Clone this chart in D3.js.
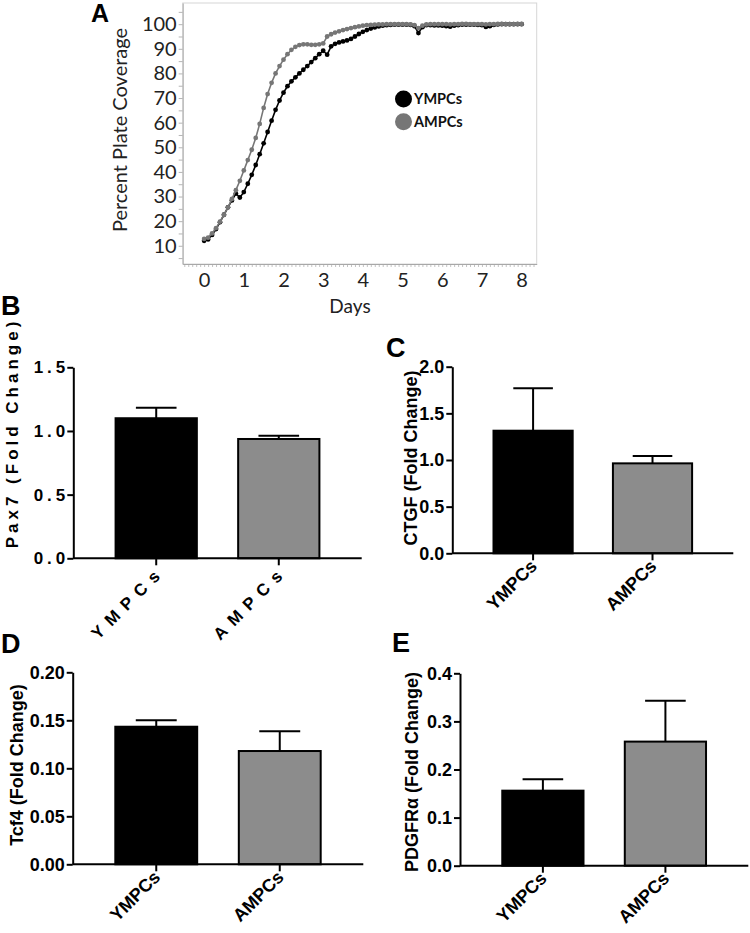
<!DOCTYPE html>
<html><head><meta charset="utf-8">
<script src="https://cdn.jsdelivr.net/npm/d3@7"></script>
<style>body{margin:0;background:#fff} svg{display:block}</style>
</head><body>
<svg id="c" width="750" height="933"></svg>
<script>
// ---------- Panel A data ----------
const days = [0.0,0.1,0.2,0.3,0.4,0.5,0.6,0.7,0.8,0.9,1.0,1.1,1.2,1.3,1.4,1.5,1.6,1.7,1.8,1.9,
2.0,2.1,2.2,2.3,2.4,2.5,2.6,2.7,2.8,2.9,3.0,3.1,3.2,3.3,3.4,3.5,3.6,3.7,3.8,3.9,
4.0,4.1,4.2,4.3,4.4,4.5,4.6,4.7,4.8,4.9,5.0,5.1,5.2,5.3,5.4,5.5,5.6,5.7,5.8,5.9,
6.0,6.1,6.2,6.3,6.4,6.5,6.6,6.7,6.8,6.9,7.0,7.1,7.2,7.3,7.4,7.5,7.6,7.7,7.8,7.9,8.0];
const ympcsCoverage = [12.0,12.6,14.4,16.8,19.6,22.6,25.6,28.4,31.2,29.6,31.8,35.2,38.8,42.8,47.2,51.6,56.2,60.8,65.2,69.0,
72.2,74.8,76.8,78.4,80.0,81.5,83.0,84.6,86.2,87.8,89.2,87.6,91.0,92.0,92.6,93.0,93.4,94.0,95.0,96.0,
96.9,97.6,98.2,98.7,99.1,99.4,99.6,99.7,99.8,99.8,99.8,99.8,99.7,99.2,96.4,98.8,99.6,99.6,99.5,99.5,
99.4,99.2,99.0,99.4,99.6,99.8,99.8,99.8,99.8,99.7,99.6,98.9,99.2,99.7,99.9,100.0,100.0,100.0,100.0,100.0,100.0];
const ampcsCoverage = [12.8,13.3,15.0,17.2,19.8,22.6,25.6,29.0,32.6,36.4,40.6,44.8,49.0,53.8,59.5,66.0,71.6,76.2,80.0,83.0,
85.6,87.8,89.6,90.8,91.5,91.8,91.8,91.6,91.6,91.8,92.2,95.0,95.9,96.6,97.1,97.6,98.0,98.4,98.8,99.1,
99.4,99.6,99.7,99.8,99.9,99.9,100.0,100.0,100.0,100.0,100.0,100.0,99.9,99.6,98.4,99.4,99.9,100.0,100.0,100.0,
100.0,100.0,99.9,100.0,100.0,100.1,100.1,100.0,100.0,100.0,100.0,99.9,100.0,100.0,100.1,100.1,100.0,100.0,100.0,100.1,100.1];
const seriesNames = ["YMPCs","AMPCs"];
const coverageTicks = [10,20,30,40,50,60,70,80,90,100];
const dayTicks = [0,1,2,3,4,5,6,7,8];

// ---------- Bar panels data ----------
const categories = ["YMPCs","AMPCs"];
const pax7Mean = [1.10, 0.937];
const pax7Sem  = [0.083, 0.026];
const ctgfMean = [1.314, 0.964];
const ctgfSem  = [0.454, 0.079];
const tcf4Mean = [0.1433, 0.118];
const tcf4Sem  = [0.0067, 0.0205];
const pdgfraMean = [0.156, 0.258];
const pdgfraSem  = [0.0236, 0.085];
const pax7Ticks = [0, 0.5, 1.0, 1.5];
const ctgfTicks = [0, 0.5, 1.0, 1.5, 2.0];
const tcf4Ticks = [0, 0.05, 0.10, 0.15, 0.20];
const pdgfraTicks = [0, 0.1, 0.2, 0.3, 0.4];

const svg = d3.select("#c");
const black = "#000", grayBar = "#8c8c8c", grayLine = "#767676";

// ================= Panel A =================
(function(){
  const L = 182.7, R = 536.7, T = 3, B = 264;
  const x = d3.scaleLinear().domain([-0.54, 8.38]).range([L, R]);
  const y = d3.scaleLinear().domain([2.6, 108.6]).range([B, T]);
  const g = svg.append("g");
  g.append("rect").attr("x", L).attr("y", T).attr("width", R - L).attr("height", B - T)
    .attr("fill", "none").attr("stroke", "#d6d6d6").attr("stroke-width", 1);

  // minor ticks
  const yMinor = g.append("g").attr("transform", `translate(${L},0)`)
    .call(d3.axisLeft(y).tickValues(d3.range(5, 106, 5)).tickSize(4).tickFormat(""));
  yMinor.selectAll("line").attr("stroke", "#b5b5b5");
  yMinor.select(".domain").remove();
  const xMinor = g.append("g").attr("transform", `translate(0,${B})`)
    .call(d3.axisBottom(x).tickValues(d3.range(-5, 84, 1).map(v => v / 10)).tickSize(3).tickFormat(""));
  xMinor.selectAll("line").attr("stroke", "#c2c2c2");
  xMinor.select(".domain").remove();

  const yAx = g.append("g").attr("transform", `translate(${L},0)`)
    .call(d3.axisLeft(y).tickValues(coverageTicks).tickSize(0).tickPadding(6).tickFormat(d3.format("d")));
  yAx.select(".domain").attr("stroke", "#a8a8a8");
  yAx.selectAll("text").attr("font-family", "Lato").attr("font-size", 20).attr("fill", "#222");
  const xAx = g.append("g").attr("transform", `translate(0,${B})`)
    .call(d3.axisBottom(x).tickValues(dayTicks).tickSize(0).tickPadding(9).tickFormat(d3.format("d")));
  xAx.select(".domain").attr("stroke", "#a8a8a8");
  xAx.selectAll("text").attr("font-family", "Lato").attr("font-size", 20).attr("fill", "#222");

  g.append("text").attr("x", 350).attr("y", 313).attr("text-anchor", "middle")
    .attr("font-family", "Lato").attr("font-size", 19).attr("fill", "#222").text("Days");
  g.append("text").attr("transform", "translate(127,130) rotate(-90)").attr("text-anchor", "middle")
    .attr("font-family", "Lato").attr("font-size", 20).attr("fill", "#222").text("Percent Plate Coverage");

  const line = d3.line().x(d => x(d[0])).y(d => y(d[1]));
  const sets = [
    {vals: ympcsCoverage, color: black},
    {vals: ampcsCoverage, color: grayLine}
  ];
  sets.forEach(s => {
    const pts = days.map((d, i) => [d, s.vals[i]]);
    g.append("path").datum(pts).attr("d", line).attr("fill", "none")
      .attr("stroke", s.color).attr("stroke-width", 1.6);
    g.selectAll(null).data(pts).join("circle")
      .attr("cx", d => x(d[0])).attr("cy", d => y(d[1])).attr("r", 2.4).attr("fill", s.color);
  });

  // legend
  const lg = g.append("g");
  seriesNames.forEach((n, i) => {
    lg.append("circle").attr("cx", 403.5).attr("cy", 99 + i * 22.7).attr("r", 8.5)
      .attr("fill", i === 0 ? black : grayLine);
    lg.append("text").attr("x", 414).attr("y", 104 + i * 22.7)
      .attr("font-family", "Lato").attr("font-weight", 700).attr("font-size", 14.5).attr("fill", "#111").text(n);
  });
  svg.append("text").attr("x", 91).attr("y", 22).attr("font-family", "Liberation Sans, Arial")
    .attr("font-weight", 700).attr("font-size", 25).text("A");
})();

// ================= Bar panels =================
function barPanel(o) {
  const g = svg.append("g");
  const y = d3.scaleLinear().domain([0, o.ticks[o.ticks.length - 1]]).range([o.y0, o.yTop]);
  const xb = d3.scaleBand().domain(categories).range([o.axisX, o.xRight]).paddingInner(0.337).paddingOuter(0.345);
  const font = "Liberation Sans, Arial";
  const ls = o.spaced ? 4 : 0;

  // bars
  g.selectAll(null).data(categories).join("rect")
    .attr("x", d => xb(d)).attr("width", xb.bandwidth())
    .attr("y", (d, i) => y(o.mean[i])).attr("height", (d, i) => o.y0 - y(o.mean[i]))
    .attr("fill", (d, i) => i === 0 ? black : grayBar)
    .attr("stroke", black).attr("stroke-width", 2);
  // error bars (upper)
  categories.forEach((c, i) => {
    const cx = xb(c) + xb.bandwidth() / 2;
    const top = y(o.mean[i] + o.sem[i]);
    g.append("line").attr("x1", cx).attr("x2", cx).attr("y1", y(o.mean[i])).attr("y2", top)
      .attr("stroke", black).attr("stroke-width", 2);
    g.append("line").attr("x1", cx - xb.bandwidth() / 4).attr("x2", cx + xb.bandwidth() / 4)
      .attr("y1", top).attr("y2", top).attr("stroke", black).attr("stroke-width", 2);
  });

  // y axis
  const yAx = g.append("g").attr("transform", `translate(${o.axisX},0)`)
    .call(d3.axisLeft(y).tickValues(o.ticks).tickSize(6).tickSizeOuter(0).tickPadding(2).tickFormat(d3.format(o.fmt)));
  yAx.selectAll("line,path").attr("stroke", black).attr("stroke-width", 2);
  yAx.selectAll("text").attr("font-family", font).attr("font-weight", 700)
    .attr("font-size", o.spaced ? 17 : 18).attr("fill", black)
    .attr("letter-spacing", ls).attr("dx", o.spaced ? 4 : 0);

  // x axis
  g.append("line").attr("x1", o.axisX).attr("x2", o.xRight).attr("y1", o.y0).attr("y2", o.y0)
    .attr("stroke", black).attr("stroke-width", 2);
  categories.forEach(c => {
    const cx = xb(c) + xb.bandwidth() / 2;
    g.append("line").attr("x1", cx).attr("x2", cx).attr("y1", o.y0).attr("y2", o.y0 + 7)
      .attr("stroke", black).attr("stroke-width", 2);
    g.append("text").attr("transform", `translate(${cx + (o.spaced ? 10 : 5)},${o.y0 + 14}) rotate(-45)`)
      .attr("text-anchor", "end").attr("font-family", font).attr("font-weight", 700)
      .attr("font-size", o.spaced ? 17 : 18).attr("letter-spacing", o.spaced ? 7.5 : 0).text(c);
  });

  // y label
  g.append("text").attr("transform", `translate(${o.labX},${o.labY}) rotate(-90)`)
    .attr("text-anchor", "middle").attr("font-family", font).attr("font-weight", 700)
    .attr("font-size", o.spaced ? 17 : 18).attr("letter-spacing", ls).text(o.label);

  // panel letter
  svg.append("text").attr("x", o.letX).attr("y", o.letY).attr("font-family", font)
    .attr("font-weight", 700).attr("font-size", 27).text(o.letter);
}

barPanel({mean: pax7Mean, sem: pax7Sem, ticks: pax7Ticks, fmt: ".1f", spaced: true,
  axisX: 73.3, xRight: 361.7, yTop: 367.3, y0: 558.3, label: "Pax7 (Fold Change)",
  labX: 18, labY: 433, letter: "B", letX: 1, letY: 315});
barPanel({mean: ctgfMean, sem: ctgfSem, ticks: ctgfTicks, fmt: ".1f",
  axisX: 452.3, xRight: 733.3, yTop: 366.7, y0: 553.3, label: "CTGF (Fold Change)",
  labX: 417, labY: 458, letter: "C", letX: 386, letY: 357});
barPanel({mean: tcf4Mean, sem: tcf4Sem, ticks: tcf4Ticks, fmt: ".2f",
  axisX: 72.7, xRight: 363.3, yTop: 672.3, y0: 864.3, label: "Tcf4 (Fold Change)",
  labX: 23, labY: 765, letter: "D", letX: 1, letY: 653});
barPanel({mean: pdgfraMean, sem: pdgfraSem, ticks: pdgfraTicks, fmt: ".1f",
  axisX: 460, xRight: 748.3, yTop: 673.3, y0: 865.7, label: "PDGFRα (Fold Change)",
  labX: 418, labY: 772, letter: "E", letX: 392, letY: 652});
</script>
</body></html>
